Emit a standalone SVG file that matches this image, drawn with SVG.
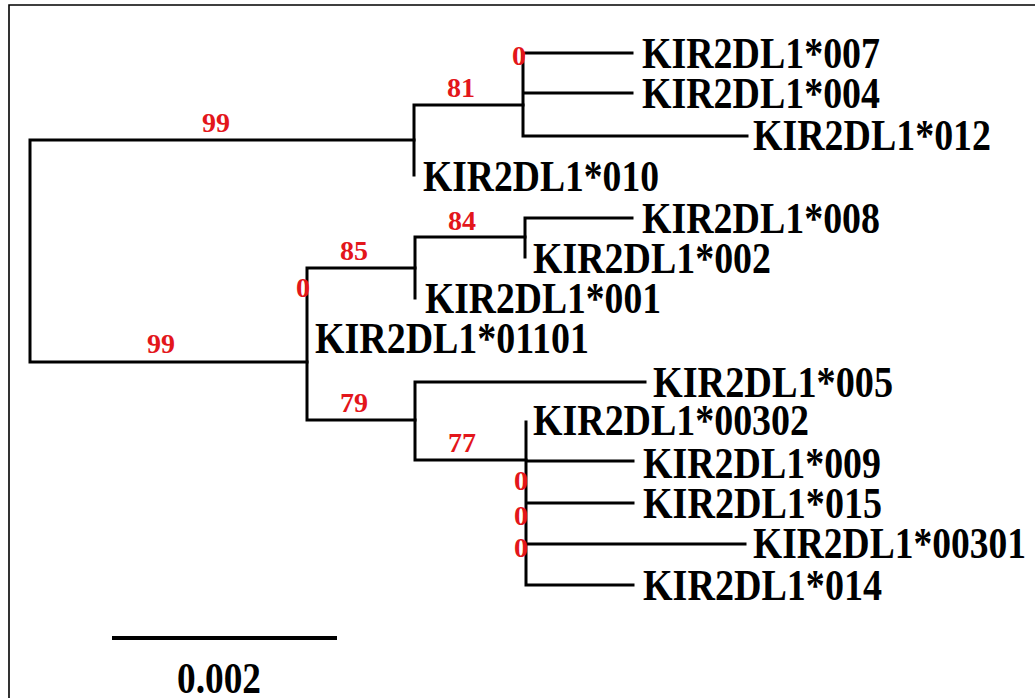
<svg xmlns="http://www.w3.org/2000/svg" width="1035" height="698" viewBox="0 0 1035 698">
<style>
.br{stroke:#000;stroke-width:3;fill:none;stroke-linecap:square}
.frame{stroke:#000;stroke-width:1.6;fill:none}
.lab{font-family:"Liberation Serif","Times New Roman",serif;font-weight:bold;font-size:44px;fill:#000}
.bs{font-family:"Liberation Serif","Times New Roman",serif;font-weight:bold;font-size:28px;fill:#e3161b;text-anchor:middle}
</style>
<rect width="1035" height="698" fill="#fff"/>
<path class="frame" d="M9,700 V5 H1040"/>
<g id="connectors">
<path class="br" d="M30,140 V362 M30,140 H414 M30,362 H307"/>
<path class="br" d="M414,105 V175 M414,105 H523"/>
<path class="br" d="M523,53 V136 M523,53 H632 M523,93 H632 M523,136 H747"/>
<path class="br" d="M307,268 V420 M307,268 H415 M307,420 H415"/>
<path class="br" d="M415,237 V298 M415,237 H525"/>
<path class="br" d="M525,218 V257 M525,218 H632"/>
<path class="br" d="M415,382 V460 M415,382 H645 M415,460 H526"/>
<path class="br" d="M526,422 V585 M526,461 H633 M526,503 H633 M526,544 H745 M526,585 H633"/>
</g>
<g id="bootstrap">
<text class="bs" x="216" y="132">99</text>
<text class="bs" x="461" y="97">81</text>
<text class="bs" x="519" y="65">0</text>
<text class="bs" x="462" y="230">84</text>
<text class="bs" x="354" y="260">85</text>
<text class="bs" x="303" y="297">0</text>
<text class="bs" x="161" y="353">99</text>
<text class="bs" x="354" y="412">79</text>
<text class="bs" x="462" y="452">77</text>
<text class="bs" x="521" y="490">0</text>
<text class="bs" x="521" y="525">0</text>
<text class="bs" x="521" y="557">0</text>
</g>
<g id="n007"><text class="lab" x="642" y="68" textLength="238" lengthAdjust="spacingAndGlyphs">KIR2DL1*007</text></g>
<g id="n004"><text class="lab" x="642" y="108" textLength="238" lengthAdjust="spacingAndGlyphs">KIR2DL1*004</text></g>
<g id="n012"><text class="lab" x="753" y="150" textLength="238" lengthAdjust="spacingAndGlyphs">KIR2DL1*012</text></g>
<g id="n010"><text class="lab" x="423" y="191" textLength="236" lengthAdjust="spacingAndGlyphs">KIR2DL1*010</text></g>
<g id="n008"><text class="lab" x="642" y="233" textLength="238" lengthAdjust="spacingAndGlyphs">KIR2DL1*008</text></g>
<g id="n002"><text class="lab" x="533" y="273" textLength="238" lengthAdjust="spacingAndGlyphs">KIR2DL1*002</text></g>
<g id="n001"><text class="lab" x="425" y="313" textLength="236" lengthAdjust="spacingAndGlyphs">KIR2DL1*001</text></g>
<g id="n01101"><text class="lab" x="315" y="353" textLength="274" lengthAdjust="spacingAndGlyphs">KIR2DL1*01101</text></g>
<g id="n005"><text class="lab" x="653" y="397" textLength="240" lengthAdjust="spacingAndGlyphs">KIR2DL1*005</text></g>
<g id="n00302"><text class="lab" x="533" y="435" textLength="276" lengthAdjust="spacingAndGlyphs">KIR2DL1*00302</text></g>
<g id="n009"><text class="lab" x="643" y="478" textLength="238" lengthAdjust="spacingAndGlyphs">KIR2DL1*009</text></g>
<g id="n015"><text class="lab" x="643" y="518" textLength="239" lengthAdjust="spacingAndGlyphs">KIR2DL1*015</text></g>
<g id="n00301"><text class="lab" x="753" y="558" textLength="273" lengthAdjust="spacingAndGlyphs">KIR2DL1*00301</text></g>
<g id="n014"><text class="lab" x="643" y="600" textLength="239" lengthAdjust="spacingAndGlyphs">KIR2DL1*014</text></g>
<g id="scale">
<path d="M112,638 H337" stroke="#000" stroke-width="4"/>
<text class="lab" x="177" y="693" textLength="84" lengthAdjust="spacingAndGlyphs">0.002</text>
</g>
</svg>
